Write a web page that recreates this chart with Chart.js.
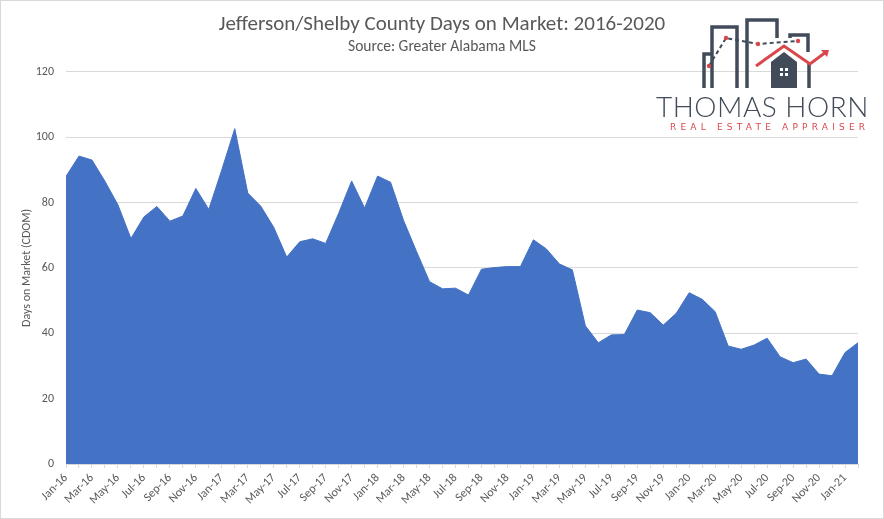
<!DOCTYPE html>
<html>
<head>
<meta charset="utf-8">
<title>Jefferson/Shelby County Days on Market</title>
<script src="https://cdn.jsdelivr.net/npm/chart.js@4.4.1/dist/chart.umd.min.js"></script>
<style>
    html, body { margin: 0; padding: 0; background: #fff; }
    #wrap { position: relative; width: 884px; height: 519px; font-family: Calibri, Carlito, Lato, sans-serif; }
    #frame { position: absolute; inset: 0; border: 1px solid #d9d9d9; pointer-events: none; }
    #logo { position: absolute; left: 640px; top: 10px; width: 240px; height: 130px; }
    #logo .name { position: absolute; left: 16px; top: 79px; font: 300 28px Lato, "Open Sans", sans-serif; color: #414b59; letter-spacing: 0.5px; white-space: nowrap; }
    #logo .tag { position: absolute; left: 30px; top: 112px; font: 9px "DejaVu Sans", sans-serif; color: #d9474d; letter-spacing: 4.2px; white-space: nowrap; }
</style>
</head>
<body>
<div id="wrap">
    <canvas id="domChart" width="884" height="519"></canvas>
    <div id="logo">
        <svg width="240" height="80" viewBox="640 10 240 80">
            <g fill="none" stroke="#414b59" stroke-width="3.5" stroke-linejoin="miter">
                <path d="M704 88 V54 H712"/>
                <path d="M712 88 V27 H737 V88"/>
                <path d="M747 88 V20 H777 V38"/>
                <path d="M790 38 V35 H808 V52"/>
                <path d="M809 62 V88"/>
            </g>
            <path d="M771 88 V62 L784 52 L797 62 V88 Z" fill="#414b59"/>
            <g fill="#fff"><rect x="780" y="68" width="3" height="3"/><rect x="785" y="68" width="3" height="3"/><rect x="780" y="73" width="3" height="3"/><rect x="785" y="73" width="3" height="3"/></g>
            <path d="M756 66 L784 46 L810 64 L826 52" fill="none" stroke="#d9474d" stroke-width="3"/>
            <path d="M821 50 L829 50 L827 57 Z" fill="#d9474d"/>
            <path d="M709 66 L726 38 L758 44 L798 41" fill="none" stroke="#414b59" stroke-width="2" stroke-dasharray="4 3"/>
            <g fill="#d9474d"><circle cx="709" cy="66" r="2.2"/><circle cx="726" cy="38" r="2.2"/><circle cx="758" cy="44" r="2.2"/><circle cx="798" cy="41" r="2.2"/></g>
        </svg>
        <div class="name">THOMAS HORN</div>
        <div class="tag">REAL ESTATE APPRAISER</div>
    </div>
    <div id="frame"></div>
</div>
<script>
// monthly CDOM, Jan-16 .. Feb-21
const months = [
    'Jan-16', 'Feb-16', 'Mar-16', 'Apr-16', 'May-16', 'Jun-16', 'Jul-16', 'Aug-16', 'Sep-16', 'Oct-16', 'Nov-16', 'Dec-16',
    'Jan-17', 'Feb-17', 'Mar-17', 'Apr-17', 'May-17', 'Jun-17', 'Jul-17', 'Aug-17', 'Sep-17', 'Oct-17', 'Nov-17', 'Dec-17',
    'Jan-18', 'Feb-18', 'Mar-18', 'Apr-18', 'May-18', 'Jun-18', 'Jul-18', 'Aug-18', 'Sep-18', 'Oct-18', 'Nov-18', 'Dec-18',
    'Jan-19', 'Feb-19', 'Mar-19', 'Apr-19', 'May-19', 'Jun-19', 'Jul-19', 'Aug-19', 'Sep-19', 'Oct-19', 'Nov-19', 'Dec-19',
    'Jan-20', 'Feb-20', 'Mar-20', 'Apr-20', 'May-20', 'Jun-20', 'Jul-20', 'Aug-20', 'Sep-20', 'Oct-20', 'Nov-20', 'Dec-20',
    'Jan-21', 'Feb-21',
];
const daysOnMarket = [
    88, 94.2, 93, 86.5, 79.3, 69, 75.6, 78.8, 74.3, 75.9, 84.3, 77.9,
    90, 102.6, 82.9, 78.9, 72.4, 63.3, 68, 68.9, 67.5, 76.7, 86.6, 78.3,
    88.1, 86.2, 74.5, 65, 55.8, 53.6, 53.8, 51.7, 59.6, 60.1, 60.4, 60.4,
    68.6, 65.8, 61.2, 59.4, 42.3, 37.1, 39.5, 39.6, 47.1, 46.3, 42.5, 46.1,
    52.4, 50.4, 46.6, 36.1, 35.1, 36.4, 38.5, 32.8, 31, 32.1, 27.5, 27,
    34.1, 37.1,
];
const yTicks = [0, 20, 40, 60, 80, 100, 120];

const GRID = '#d9d9d9';
const TEXT = '#595959';
const FONT = 'Calibri, Carlito, Lato, sans-serif';

new Chart(document.getElementById('domChart'), {
    type: 'line',
    data: {
        labels: months,
        datasets: [{
            data: daysOnMarket,
            fill: 'origin',
            backgroundColor: '#4472c4',
            borderColor: '#4472c4',
            borderWidth: 1,
            pointRadius: 0,
            tension: 0,
        }],
    },
    options: {
        responsive: false,
        animation: false,
        layout: { padding: 0 },
        plugins: {
            legend: { display: false },
            tooltip: { enabled: false },
            title: {
                display: true,
                text: 'Jefferson/Shelby County Days on Market: 2016-2020',
                color: TEXT,
                font: { family: FONT, size: 21, weight: 'normal' },
                padding: { top: 12, bottom: 1 },
            },
            subtitle: {
                display: true,
                text: 'Source: Greater Alabama MLS',
                color: TEXT,
                font: { family: FONT, size: 15.5 },
                padding: { top: 0, bottom: 15 },
            },
        },
        scales: {
            x: {
                offset: false,
                grid: { drawOnChartArea: false, drawTicks: true, tickLength: 4, color: GRID },
                border: { color: GRID },
                ticks: {
                    autoSkip: false,
                    maxRotation: 45,
                    minRotation: 45,
                    color: TEXT,
                    font: { family: FONT, size: 12 },
                    callback: (v, i) => (i % 2 === 0 ? months[i] : ''),
                },
                afterFit: (s) => { s.height = 55; },
            },
            y: {
                min: yTicks[0],
                max: yTicks[yTicks.length - 1],
                afterBuildTicks: (s) => { s.ticks = yTicks.map((v) => ({ value: v })); },
                grid: { color: GRID, drawTicks: false },
                border: { display: false },
                ticks: { color: TEXT, padding: 12, font: { family: FONT, size: 12 } },
                title: {
                    display: true,
                    text: 'Days on Market (CDOM)',
                    color: TEXT,
                    font: { family: FONT, size: 12 },
                    padding: { top: 20, bottom: 0 },
                },
                afterFit: (s) => { s.width = 66; },
            },
            // empty right-hand strip so the title stays centred on the canvas
            yRight: {
                position: 'right',
                grid: { display: false },
                border: { display: false },
                ticks: { display: false },
                afterFit: (s) => { s.width = 26; },
            },
        },
    },
});
</script>
</body>
</html>
